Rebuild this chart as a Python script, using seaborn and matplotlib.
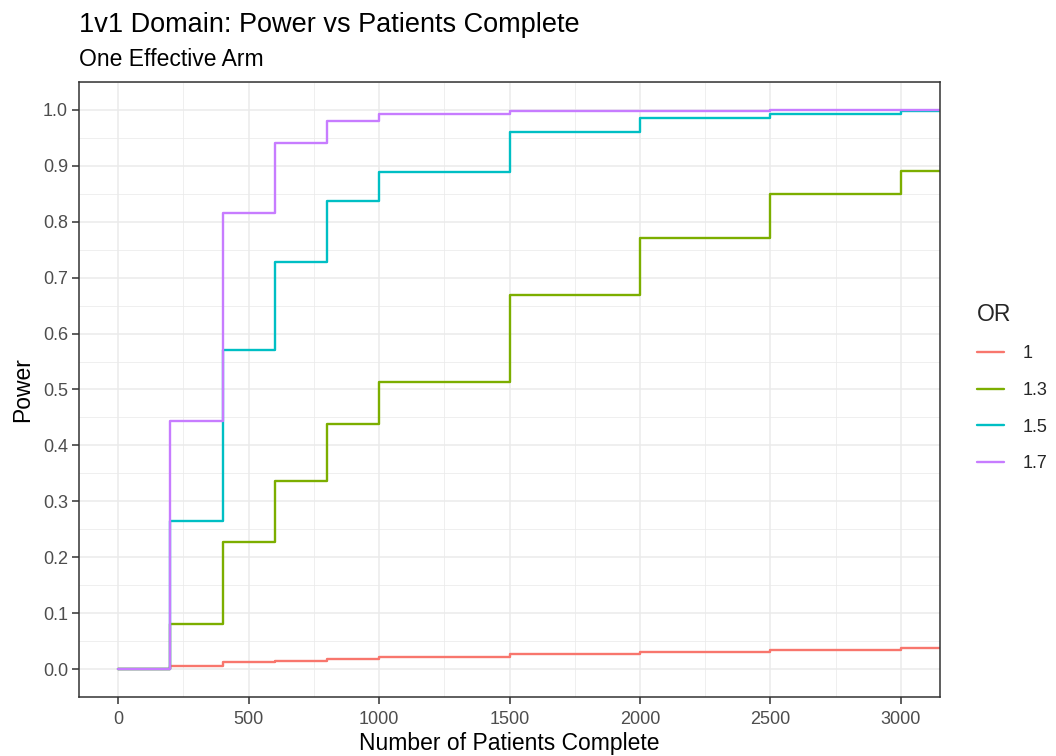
import matplotlib
matplotlib.use("Agg")
import matplotlib.pyplot as plt
from matplotlib.ticker import MultipleLocator
import pandas as pd
import seaborn as sns

# patients complete at each analysis (last point just carries the line to the panel edge)
patients = [0, 200, 400, 600, 800, 1000, 1500, 2000, 2500, 3000, 3200]

# power per odds ratio
power_or_1 = [0.0, 0.005, 0.012, 0.015, 0.018, 0.021, 0.027, 0.030, 0.034, 0.037, 0.038]
power_or_13 = [0.0, 0.080, 0.227, 0.337, 0.438, 0.514, 0.669, 0.771, 0.850, 0.891, 0.892]
power_or_15 = [0.0, 0.265, 0.570, 0.728, 0.838, 0.889, 0.960, 0.985, 0.993, 0.998, 0.999]
power_or_17 = [0.0, 0.444, 0.815, 0.941, 0.981, 0.992, 0.998, 0.999, 1.0, 1.0, 1.0]

or_levels = ["1", "1.3", "1.5", "1.7"]
or_colors = ["#F8766D", "#7CAE00", "#00BFC4", "#C77CFF"]

frames = []
for lvl, vals in zip(or_levels, [power_or_1, power_or_13, power_or_15, power_or_17]):
    frames.append(pd.DataFrame({"patients": patients, "power": vals, "OR": lvl}))
df = pd.concat(frames, ignore_index=True)

sns.set_theme(style="white")
plt.rcParams["font.family"] = ["Liberation Sans", "DejaVu Sans"]

fig = plt.figure(figsize=(10.56, 7.56), dpi=100)
ax = fig.add_axes([79 / 1056, 1 - 697 / 756, (940 - 79) / 1056, (697 - 82) / 756])

sns.lineplot(data=df, x="patients", y="power", hue="OR", hue_order=or_levels,
             palette=or_colors, drawstyle="steps-post", linewidth=1.7,
             legend=False, ax=ax, estimator=None)

ax.xaxis.set_major_locator(MultipleLocator(500))
ax.xaxis.set_minor_locator(MultipleLocator(250))
ax.yaxis.set_major_locator(MultipleLocator(0.1))
ax.yaxis.set_minor_locator(MultipleLocator(0.05))
ax.set_xlim(-150, 3150)
ax.set_ylim(-0.05, 1.05)
ax.yaxis.set_major_formatter(lambda v, p: f"{v:.1f}")
ax.xaxis.set_major_formatter(lambda v, p: f"{int(round(v))}")

ax.grid(which="major", color="#EBEBEB", linewidth=1.1)
ax.grid(which="minor", color="#EBEBEB", linewidth=0.55)
ax.set_axisbelow(True)
for s in ax.spines.values():
    s.set_color("#333333")
    s.set_linewidth(1.1)
ax.tick_params(which="major", length=5, width=1.1, color="#333333",
               labelcolor="#4D4D4D", labelsize=13, pad=3, bottom=True, left=True)
ax.tick_params(axis="x", which="major", pad=5)
ax.tick_params(which="minor", length=0)

ax.set_xlabel("Number of Patients Complete", fontsize=16.5, color="black", labelpad=3)
ax.set_ylabel("Power", fontsize=16.5, color="black", labelpad=6)

fig.text(79 / 1056, 1 - 32 / 756, "1v1 Domain: Power vs Patients Complete",
         fontsize=19.5, color="black", ha="left", va="baseline")
fig.text(79 / 1056, 1 - 66 / 756, "One Effective Arm",
         fontsize=16.5, color="black", ha="left", va="baseline")

handles = ax.get_lines()[:4]
leg = fig.legend(handles, or_levels, title="OR", loc="upper left",
                 bbox_to_anchor=(977 / 1056, 1 - 303 / 756), frameon=False,
                 fontsize=13, title_fontsize=16.5, handlelength=1.5,
                 labelspacing=1.08, handletextpad=1.0, alignment="left",
                 borderpad=0, borderaxespad=0)

fig.savefig("out.png", dpi=100)
